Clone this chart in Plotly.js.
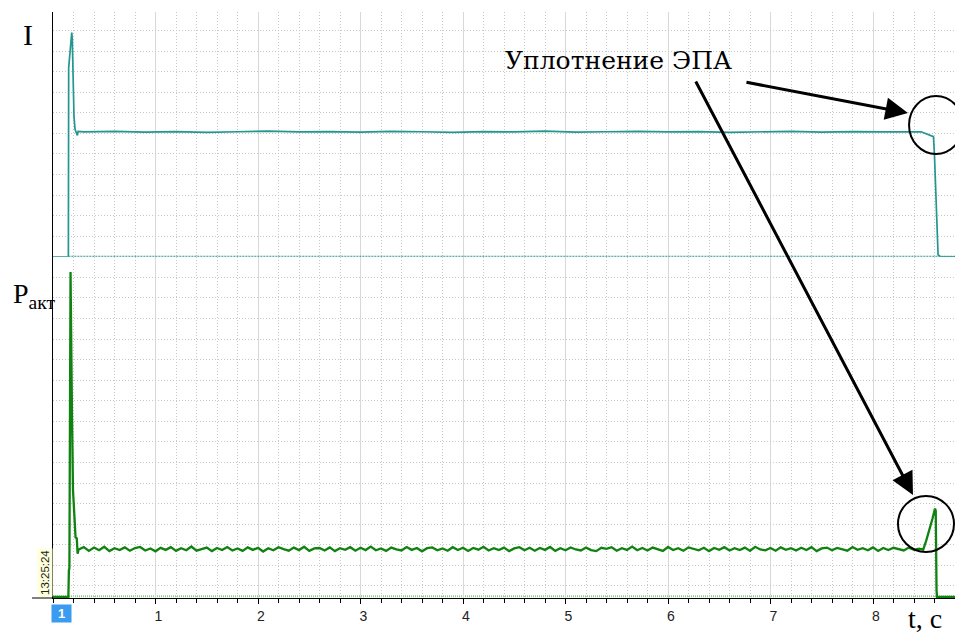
<!DOCTYPE html>
<html>
<head>
<meta charset="utf-8">
<script src="https://cdn.plot.ly/plotly-3.0.1.min.js"></script>
<style>html,body{margin:0;padding:0;background:#fff;}#chart{width:955px;height:633px;}</style>
</head>
<body>
<div id="chart"></div>
<script>
// Current I (arbitrary units, one grid step = 1)
const iTime = [0, 0.150, 0.153, 0.170, 0.183, 0.188, 0.195, 0.205, 0.215, 0.230, 0.238, 0.245, 0.30, 0.6, 0.9, 1.2, 1.5, 1.8, 2.1, 2.4, 2.7, 3.0, 3.3, 3.6, 3.9, 4.2, 4.5, 4.8, 5.1, 5.4, 5.7, 6.0, 6.3, 6.6, 6.9, 7.2, 7.5, 7.8, 8.1, 8.4, 8.47, 8.50, 8.55, 8.59, 8.60, 8.615, 8.635, 8.66, 8.80];
const iValue = [0, 0, 9.2, 10.0, 10.9, 10.6, 8.6, 6.8, 6.2, 5.95, 5.9, 6.1, 6.07, 6.10, 6.06, 6.09, 6.05, 6.08, 6.11, 6.07, 6.09, 6.06, 6.10, 6.08, 6.05, 6.09, 6.07, 6.11, 6.06, 6.08, 6.10, 6.07, 6.09, 6.05, 6.08, 6.10, 6.06, 6.09, 6.07, 6.08, 6.08, 6.02, 5.90, 5.84, 4.9, 2.4, 0.1, 0, 0];

// Active power P (arbitrary units, one grid step = 1)
const pHeadTime = [0, 0.150, 0.155, 0.160, 0.171, 0.178, 0.185, 0.195, 0.205, 0.220, 0.232, 0.240];
const pHeadValue = [0, 0, 1.3, 1.4, 15.8, 13.5, 9.0, 5.2, 4.0, 2.9, 2.85, 2.1];
const pSteadyStart = 0.25, pSteadyStep = 0.05;
const pSteadyValue = [
2.31,2.42,2.24,2.40,2.27,2.44,2.23,2.37,2.28,2.41,
2.25,2.38,2.43,2.26,2.36,2.22,2.39,2.29,2.42,2.24,
2.37,2.27,2.45,2.25,2.33,2.40,2.23,2.38,2.28,2.43,
2.26,2.36,2.24,2.41,2.29,2.39,2.21,2.37,2.27,2.42,
2.33,2.25,2.40,2.28,2.44,2.24,2.36,2.38,2.26,2.41,
2.23,2.37,2.29,2.42,2.25,2.39,2.28,2.45,2.27,2.36,
2.24,2.40,2.31,2.26,2.43,2.29,2.38,2.22,2.37,2.41,
2.27,2.36,2.25,2.42,2.28,2.39,2.24,2.38,2.30,2.44,
2.26,2.37,2.28,2.40,2.23,2.36,2.42,2.27,2.39,2.25,
2.38,2.29,2.43,2.24,2.37,2.27,2.41,2.31,2.26,2.40,
2.28,2.23,2.39,2.34,2.42,2.25,2.37,2.29,2.45,2.27,
2.38,2.26,2.40,2.31,2.24,2.43,2.28,2.37,2.25,2.41,
2.34,2.27,2.39,2.23,2.38,2.29,2.42,2.26,2.37,2.28,
2.40,2.24,2.44,2.31,2.27,2.38,2.25,2.41,2.29,2.37,
2.26,2.39,2.28,2.42,2.23,2.36,2.40,2.27,2.38,2.31,
2.25,2.43,2.29,2.37,2.27,2.41,2.24,2.38,2.28,2.39,
2.31,2.26,2.40,2.29,2.35];
const pTailTime = [8.49, 8.52, 8.55, 8.58, 8.605, 8.612, 8.62, 8.625, 8.80];
const pTailValue = [2.3, 2.75, 3.25, 3.8, 4.3, 4.2, 0.3, 0, 0];

const xTickValues = [1, 2, 3, 4, 5, 6, 7, 8];
const xTickLabels = ['1', '2', '3', '4', '5', '6', '7', '8'];
const labelI = 'I';
const labelP = 'P<sub>акт</sub>';
const labelT = 't, с';
const labelNote = 'Уплотнение ЭПА';
const labelClock = '13:25:24';
const labelMarker = '1';

const pTime = pHeadTime.slice();
const pValue = pHeadValue.slice();
pSteadyValue.forEach((v, k) => { pTime.push(+(pSteadyStart + k * pSteadyStep).toFixed(3)); pValue.push(v); });
pTailTime.forEach((t, k) => { pTime.push(t); pValue.push(pTailValue[k]); });

// geometry helpers (paper coordinates)
const L = 53, T = 12, W = 902, H = 586;
const px = p => (p - L) / W;
const py = p => (T + H - p) / H;
const split = (598 - 256.8) / 586;

const teal = '#22968f';
const green = '#0f820f';

const traces = [
  {x: iTime, y: iValue, xaxis: 'x', yaxis: 'y', mode: 'lines', line: {color: teal, width: 1.7}, hoverinfo: 'skip'},
  {x: pTime, y: pValue, xaxis: 'x', yaxis: 'y2', mode: 'lines', line: {color: green, width: 2.3}, hoverinfo: 'skip'}
];

const gridDot = '1px,2px';
const layout = {
  width: 955, height: 633,
  margin: {l: L, r: 0, t: T, b: 35},
  paper_bgcolor: '#fff', plot_bgcolor: '#fff',
  showlegend: false,
  font: {family: 'Liberation Sans, Arial, sans-serif', size: 13, color: '#222'},
  xaxis: {
    anchor: 'y2', range: [0, 902 / 102.5],
    tickvals: xTickValues, ticktext: xTickLabels,
    ticks: 'outside', ticklen: 5, tickcolor: '#000', tickwidth: 1,
    showline: true, linecolor: '#000', linewidth: 1,
    showgrid: true, gridcolor: '#d8d8d8', gridwidth: 1,
    zeroline: false, ticklabelshift: 3,
    tickfont: {family: 'Liberation Sans, Arial, sans-serif', size: 14, color: '#222'},
    minor: {dtick: 0.2, tick0: 0, showgrid: true, gridcolor: '#c8c8c8', griddash: gridDot, ticks: 'outside', ticklen: 4, tickcolor: '#000'}
  },
  yaxis: {
    domain: [split, 1], range: [0, 244.8 / 20.57],
    tick0: 0, dtick: 1, showticklabels: false, ticks: '',
    showgrid: true, gridcolor: '#c8c8c8', griddash: gridDot,
    zeroline: false, showline: true, linecolor: '#000', linewidth: 1.5
  },
  yaxis2: {
    domain: [0, split], range: [-0.05, 341.2 / 20.57 - 0.05],
    tick0: 0.535, dtick: 1, showticklabels: false, ticks: '',
    showgrid: true, gridcolor: '#c8c8c8', griddash: gridDot,
    zeroline: false, showline: true, linecolor: '#000', linewidth: 1.5
  },
  shapes: [
    {type: 'line', xref: 'x', yref: 'y', x0: 0.15, x1: 8.8, y0: 0.02, y1: 0.02, line: {color: teal, width: 1.5, dash: '2px,1px'}},
    {type: 'line', xref: 'x', yref: 'y2', x0: 0, x1: 8.8, y0: 0.04, y1: 0.04, layer: 'below', line: {color: '#8ccf8c', width: 2, dash: '1px,1px'}},
    {type: 'line', xref: 'paper', yref: 'paper', x0: px(32), x1: 0, y0: 0, y1: 0, line: {color: '#000', width: 1}},
    {type: 'circle', xref: 'x', yref: 'y', xsizemode: 'pixel', ysizemode: 'pixel', xanchor: 8.615, yanchor: 6.41, x0: -27, x1: 27, y0: -29, y1: 29, line: {color: '#000', width: 2}},
    {type: 'circle', xref: 'x', yref: 'y2', xsizemode: 'pixel', ysizemode: 'pixel', xanchor: 8.517, yanchor: 3.55, x0: -28, x1: 28, y0: -28, y1: 28, line: {color: '#000', width: 2}}
  ],
  annotations: [
    {xref: 'paper', yref: 'paper', x: px(28), y: py(34), text: labelI, showarrow: false, xanchor: 'center', yanchor: 'middle', font: {family: 'Liberation Serif, Times New Roman, serif', size: 30, color: '#000'}},
    {xref: 'paper', yref: 'paper', x: px(11), y: py(295), text: labelP, showarrow: false, xanchor: 'left', yanchor: 'middle', font: {family: 'Liberation Serif, Times New Roman, serif', size: 28, color: '#000'}},
    {xref: 'paper', yref: 'paper', x: px(925), y: py(618), text: labelT, showarrow: false, xanchor: 'center', yanchor: 'middle', font: {family: 'Liberation Serif, Times New Roman, serif', size: 28, color: '#000'}},
    {xref: 'paper', yref: 'paper', x: px(503), y: py(60), text: labelNote, showarrow: false, xanchor: 'left', yanchor: 'middle', font: {family: 'DejaVu Serif, serif', size: 25, color: '#000'}},
    {xref: 'paper', yref: 'paper', x: px(45), y: py(573), text: labelClock, showarrow: false, textangle: -90, xanchor: 'center', yanchor: 'middle', bgcolor: '#ffffdc', borderpad: 1, font: {family: 'Liberation Sans, Arial, sans-serif', size: 11.5, color: '#222'}},
    {xref: 'paper', yref: 'paper', x: px(61), y: py(613), text: '<b>' + labelMarker + '</b>', showarrow: false, xanchor: 'center', yanchor: 'middle', bgcolor: '#3b9bf0', borderpad: 1, width: 17, height: 15, font: {family: 'Liberation Sans, Arial, sans-serif', size: 13, color: '#fff'}},
    {xref: 'x', yref: 'y', x: 8.341, y: 6.99, ax: -163, ay: -31, text: '', showarrow: true, arrowhead: 2, arrowsize: 1.5, arrowwidth: 3, arrowcolor: '#000', standoff: 0},
    {xref: 'x', yref: 'y2', x: 8.39, y: 4.96, ax: -218, ay: -415, text: '', showarrow: true, arrowhead: 2, arrowsize: 1.5, arrowwidth: 3, arrowcolor: '#000', standoff: 0}
  ]
};

Plotly.newPlot('chart', traces, layout, {displayModeBar: false, staticPlot: true});
</script>
</body>
</html>
